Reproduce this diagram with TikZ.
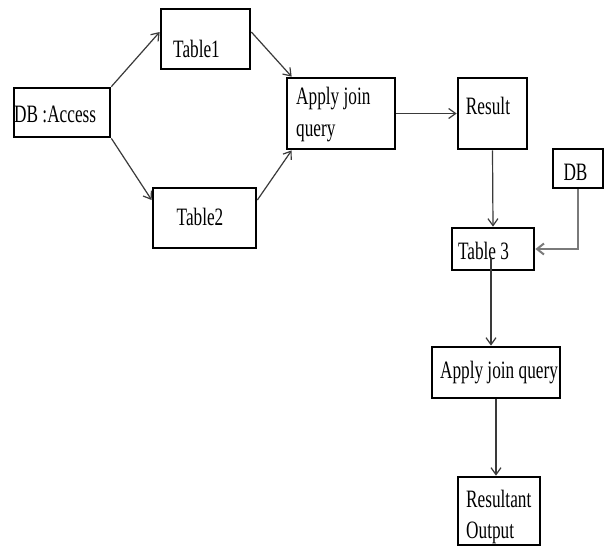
\documentclass[tikz,border=0pt]{standalone}
\usepackage{fontspec}
\setmainfont[FakeStretch=0.69]{Liberation Serif}
\usetikzlibrary{arrows.meta,calc}
\definecolor{conn}{HTML}{3A3A3A}
\definecolor{connlight}{HTML}{7A7A7A}
\begin{document}
\begin{tikzpicture}[x=1pt,y=-1pt,
  box/.style={draw=black, line width=2.7pt, rectangle, inner sep=0pt},
  lbl/.style={inner sep=0pt, anchor=base west, font=\fontsize{25}{32}\selectfont, align=left},
  lblc/.style={inner sep=0pt, anchor=base, font=\fontsize{25}{32}\selectfont},
  conn/.style={draw=conn, line width=1.2pt, -{Straight Barb[length=7pt,width=10pt,line width=1.2pt]}},
  connb/.style={draw=connlight, line width=2pt, -{Straight Barb[length=7pt,width=11pt,line width=2pt]}}
]
\useasboundingbox (0,0) rectangle (611,547);
\fill[white] (0,0) rectangle (611,547);

% boxes
\node[box, minimum width=96pt, minimum height=49pt] (acc) at (62,112.5) {};
\node[box, minimum width=89pt, minimum height=60pt] (t1) at (205.5,39) {};
\node[box, minimum width=103pt, minimum height=60pt] (t2) at (204.5,218) {};
\node[box, minimum width=108pt, minimum height=71pt] (app1) at (341,113.5) {};
\node[box, minimum width=69pt, minimum height=71pt] (res) at (492.5,113.5) {};
\node[box, minimum width=50pt, minimum height=39pt] (db) at (578,168.5) {};
\node[box, minimum width=82pt, minimum height=42pt] (t3) at (493,249) {};
\node[box, minimum width=128pt, minimum height=51pt] (app2) at (496,372.5) {};
\node[box, minimum width=82pt, minimum height=68pt] (out) at (499,511) {};

% texts (base anchor of a two-line node is the last line's baseline)
\node[lbl] (acct) at (14,122) {DB :Access};
\node[lblc] (t1t) at (196.5,57) {Table1};
\node[lblc] (t2t) at (200,225) {Table2};
\node[lbl] (app1t) at (296,136) {Apply join\\[0pt]query};
\node[lblc] (rest) at (488,114) {Result};
\node[lblc] (dbt) at (575.5,180.5) {DB};
\node[lblc] (t3t) at (483.5,259) {Table 3};
\node[lblc] (app2t) at (499,378) {Apply join query};
\node[lbl] (outt) at (466,538) {Resultant\\[-1pt]Output};

% connectors
\draw[conn] (acc.north east) -- ([yshift=7pt]t1.west);
\draw[conn] ([yshift=7pt]t1.east) -- ([xshift=6pt]app1.north west);
\draw[conn] (acc.south east) -- ([yshift=18pt]t2.west);
\draw[conn] ([yshift=18pt]t2.east) -- ([xshift=6pt]app1.south west);
\draw[conn] (app1.east) -- (res.west);
\draw[conn] (res.south) -- (t3.north);
\draw[connb] (db.south) |- (t3.east);
\draw[conn] ([xshift=-2pt,yshift=13pt]t3.south) -- ([xshift=-2pt]t3.south |- app2.north);
\draw[conn] (app2.south) -- (app2.south |- out.north);
\end{tikzpicture}
\end{document}
